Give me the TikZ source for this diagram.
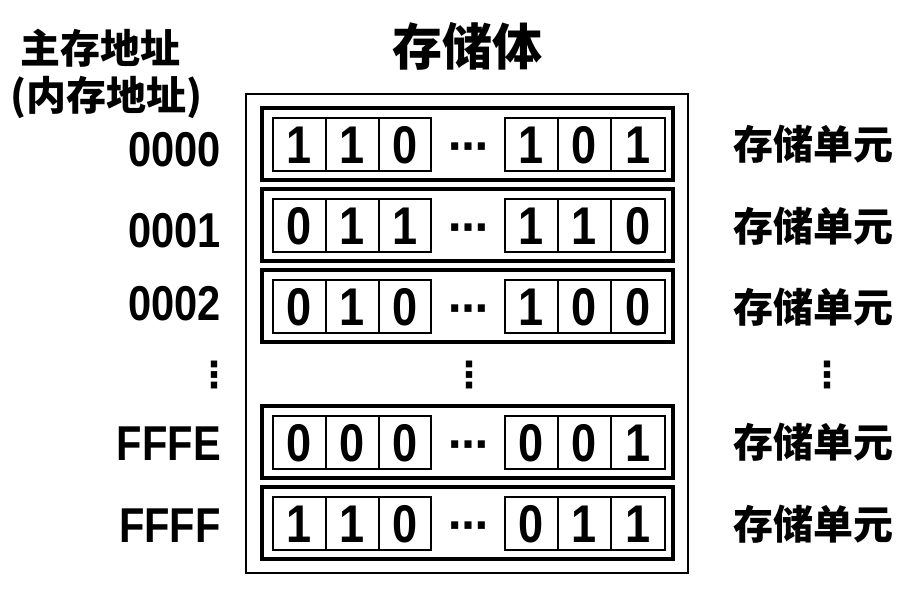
\documentclass[tikz,border=0pt]{standalone}
\usepackage{fontspec}
\newfontfamily\cjkfont{Noto Sans CJK SC}
\newfontfamily\digitfont{Liberation Sans}[FakeStretch=0.85]
\newfontfamily\dotsfont{DejaVu Sans}

\begin{document}
\begin{tikzpicture}[x=0.75pt,y=0.75pt,yscale=-1,xscale=1,
  outerline/.style={line width=2pt},
  rowline/.style={line width=2.4pt},
  cellline/.style={line width=2pt},
  titlelabel/.style={font=\cjkfont\bfseries\fontsize{37.5}{42}\selectfont, inner sep=0pt},
  cjklabel/.style={font=\cjkfont\bfseries\fontsize{30}{36}\selectfont, inner sep=0pt},
  addrlabel/.style={font=\digitfont\bfseries\fontsize{36.7}{40}\selectfont, inner sep=0pt, anchor=east},
  bitlabel/.style={font=\digitfont\bfseries\fontsize{39.8}{44}\selectfont, inner sep=0pt},
  dotslabel/.style={font=\dotsfont\bfseries\fontsize{27}{30}\selectfont, inner sep=0pt},
  hdotslabel/.style={font=\dotsfont\bfseries\fontsize{30}{34}\selectfont, inner sep=0pt, anchor=base}]
\useasboundingbox (0,0) rectangle (924,590);

% Text Node
\node [titlelabel] (title) at (467,46) {存储体};
% Text Node
\node [cjklabel] (mainaddr) at (101,48) {主存地址};
% Text Node
\node [cjklabel] (inneraddr) at (106,97) {(内存地址)};

%Shape: Rectangle [storage]
\draw [outerline] (246,94) rectangle (688,573);

%Rows: top, address, label y's, bits
\foreach \top/\addr/\ay/\uy/\a/\b/\c/\d/\e/\f [count=\i] in
  {108/0000/149.5/144/1/1/0/1/0/1,
   189/0001/231/226/0/1/1/1/1/0,
   270/0002/304/307/0/1/0/1/0/0,
   406/FFFE/444/442/0/0/0/0/0/1,
   487/FFFF/526/524/1/1/0/0/1/1}{
  \draw [rowline] (262,\top) rectangle (673,\top+72);
  \draw [cellline] (273,\top+10) rectangle (326,\top+63) (326,\top+10) rectangle (379,\top+63) (379,\top+10) rectangle (431,\top+63);
  \draw [cellline] (505,\top+10) rectangle (558,\top+63) (558,\top+10) rectangle (611,\top+63) (611,\top+10) rectangle (665,\top+63);
  \node [bitlabel] (bit\i-1) at (299.5,\top+37.5) {\a};
  \node [bitlabel] (bit\i-2) at (352.5,\top+37.5) {\b};
  \node [bitlabel] (bit\i-3) at (405,\top+37.5) {\c};
  \node [hdotslabel] (hdots\i) at (468,\top+52) {⋯};
  \node [bitlabel] (bit\i-4) at (531.5,\top+37.5) {\d};
  \node [bitlabel] (bit\i-5) at (584.5,\top+37.5) {\e};
  \node [bitlabel] (bit\i-6) at (638,\top+37.5) {\f};
  \node [addrlabel] (addr\i) at (221,\ay) {\addr};
  \node [cjklabel] (unit\i) at (813,\uy) {存储单元};
}

% Text Node
\node [dotslabel] (vdotsaddr) at (214,375) {⋮};
% Text Node
\node [dotslabel] (vdotsrows) at (469,375) {⋮};
% Text Node
\node [dotslabel] (vdotsunit) at (827,375) {⋮};

\end{tikzpicture}
\end{document}
